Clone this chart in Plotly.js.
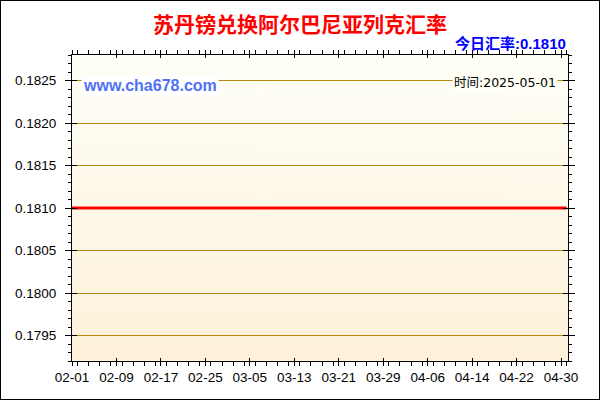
<!DOCTYPE html>
<html>
<head>
<meta charset="utf-8">
<script src="https://cdn.plot.ly/plotly-3.0.1.min.js"></script>
<style>
    html, body { margin: 0; padding: 0; background: #fff; }
    #chart { width: 598px; height: 398px; border: 1px solid #000; }
</style>
</head>
<body>
<div id="chart"></div>
<script>
// Chart data
const chartTitle = '苏丹镑兑换阿尔巴尼亚列克汇率';
const todayLabel = '今日汇率:0.1810';
const timeLabel = '时间:2025-05-01';
const siteLabel = 'www.cha678.com';

const dates = ['2025-02-01', '2025-02-09', '2025-02-17', '2025-02-25', '2025-03-05', '2025-03-13',
    '2025-03-21', '2025-03-29', '2025-04-06', '2025-04-14', '2025-04-22', '2025-04-30', '2025-05-01'];
const rates = [0.1810, 0.1810, 0.1810, 0.1810, 0.1810, 0.1810,
    0.1810, 0.1810, 0.1810, 0.1810, 0.1810, 0.1810, 0.1810];

const DAY = 86400000;

// Background gradient for the plot area (plotly has no gradient bg)
function makeGradient() {
    const c = document.createElement('canvas');
    c.width = 4;
    c.height = 300;
    const ctx = c.getContext('2d');
    const g = ctx.createLinearGradient(0, 0, 0, 300);
    g.addColorStop(0, '#FFFFF8');
    g.addColorStop(1, '#FDF1D9');
    ctx.fillStyle = g;
    ctx.fillRect(0, 0, 4, 300);
    return c.toDataURL();
}

const trace = {
    x: dates,
    y: rates,
    type: 'scatter',
    mode: 'lines',
    line: { color: '#FF0000', width: 3 },
    hoverinfo: 'x+y',
    showlegend: false
};

// invisible copy, only there so the overlay axes (inner half of the ticks) get drawn
const tickTrace = {
    x: dates,
    y: rates,
    xaxis: 'x2',
    yaxis: 'y2',
    type: 'scatter',
    mode: 'lines',
    opacity: 0,
    hoverinfo: 'skip',
    showlegend: false
};

const axisFont = { family: 'Liberation Sans, Arial, sans-serif', size: 13.5, color: '#000' };
const xRange = ['2025-02-01', '2025-05-01 06:00'];
const yRange = [0.1792, 0.1828];

const layout = {
    width: 598,
    height: 398,
    margin: { t: 54, l: 71, r: 31, b: 38 },
    paper_bgcolor: '#FFFFFF',
    plot_bgcolor: 'rgba(0,0,0,0)',
    xaxis: {
        type: 'date',
        range: xRange,
        tick0: '2025-02-01',
        dtick: 8 * DAY,
        tickformat: '%m-%d',
        ticks: 'outside',
        ticklen: 4,
        tickwidth: 1,
        tickcolor: '#000',
        minor: { dtick: 2 * DAY, ticks: 'outside', ticklen: 4, tickwidth: 1, tickcolor: '#000' },
        showgrid: false,
        showline: true,
        linecolor: '#000',
        linewidth: 1,
        mirror: 'allticks',
        tickfont: axisFont,
        fixedrange: true
    },
    yaxis: {
        range: yRange,
        tick0: 0.1795,
        dtick: 0.0005,
        tickformat: '.4f',
        ticks: 'outside',
        ticklen: 6,
        tickwidth: 1,
        tickcolor: '#000',
        ticklabelstandoff: 6,
        minor: { dtick: 0.0001, ticks: 'outside', ticklen: 3, tickwidth: 1, tickcolor: '#000' },
        showgrid: true,
        gridcolor: '#B8860B',
        gridwidth: 1,
        zeroline: false,
        showline: true,
        linecolor: '#000',
        linewidth: 1,
        mirror: 'allticks',
        tickfont: axisFont,
        fixedrange: true
    },
    xaxis2: {
        type: 'date',
        overlaying: 'x',
        anchor: 'y2',
        range: xRange,
        tick0: '2025-02-01',
        dtick: 8 * DAY,
        ticks: 'inside',
        ticklen: 3,
        tickcolor: '#000',
        showticklabels: false,
        showgrid: false,
        showline: false,
        mirror: 'ticks',
        fixedrange: true
    },
    yaxis2: {
        overlaying: 'y',
        anchor: 'x2',
        range: yRange,
        tick0: 0.1795,
        dtick: 0.0005,
        ticks: 'inside',
        ticklen: 5,
        tickcolor: '#000',
        showticklabels: false,
        showgrid: false,
        zeroline: false,
        showline: false,
        mirror: 'ticks',
        fixedrange: true
    },
    images: [{
        source: makeGradient(),
        xref: 'paper', yref: 'paper',
        x: 0, y: 1, sizex: 1, sizey: 1,
        sizing: 'stretch',
        layer: 'below'
    }],
    annotations: [
        {
            text: '<b>' + chartTitle + '</b>',
            xref: 'paper', yref: 'paper',
            x: 0.46, y: 1, yshift: 32,
            xanchor: 'center', yanchor: 'middle',
            showarrow: false,
            font: { family: 'Noto Sans CJK SC, sans-serif', size: 21, color: '#FF0000' }
        },
        {
            text: '<b>' + todayLabel + '</b>',
            xref: 'paper', yref: 'paper',
            x: 1, y: 1, yshift: 12,
            xanchor: 'right', yanchor: 'middle',
            showarrow: false,
            font: { family: 'Liberation Sans, Noto Sans CJK SC, sans-serif', size: 15, color: '#0000FF' }
        },
        {
            text: '<b>' + siteLabel + '</b>',
            xref: 'paper', yref: 'paper',
            x: 0, y: 1, xshift: 9, yshift: -30,
            xanchor: 'left', yanchor: 'middle',
            showarrow: false,
            bgcolor: '#FFFFFF',
            font: { family: 'Liberation Sans, Arial, sans-serif', size: 16, color: '#5070F5' }
        },
        {
            text: timeLabel,
            xref: 'paper', yref: 'paper',
            x: 1, y: 1, xshift: -10, yshift: -27,
            xanchor: 'right', yanchor: 'middle',
            showarrow: false,
            bgcolor: '#FFFFF6',
            font: { family: 'DejaVu Sans, Noto Sans CJK SC, sans-serif', size: 12.5, color: '#000' }
        }
    ]
};

Plotly.newPlot('chart', [trace, tickTrace], layout, { displayModeBar: false, staticPlot: true });
</script>
</body>
</html>
